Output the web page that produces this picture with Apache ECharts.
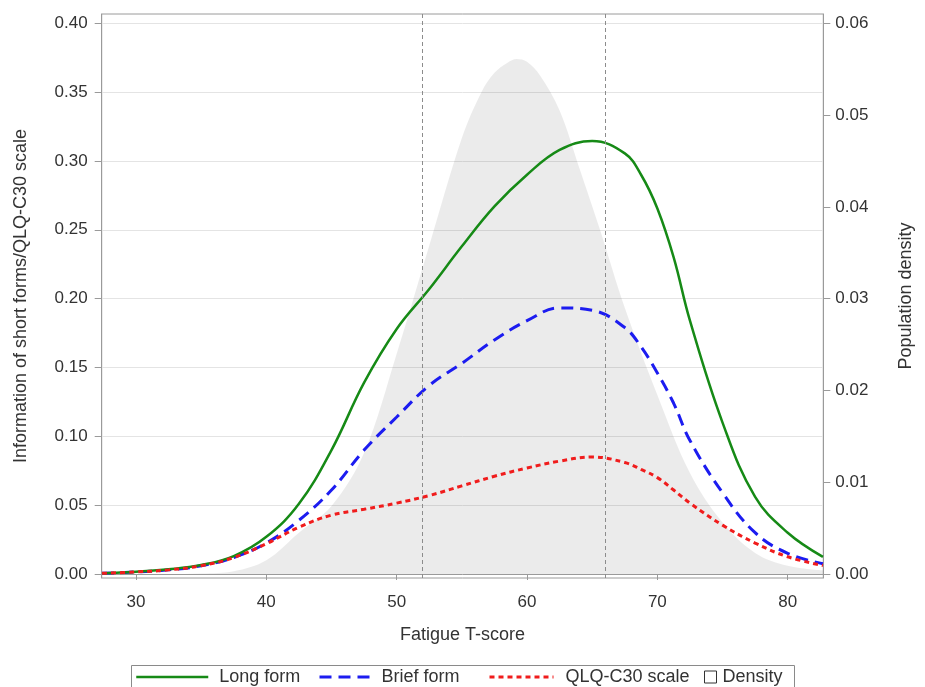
<!DOCTYPE html>
<html>
<head>
<meta charset="utf-8">
<script src="https://cdn.jsdelivr.net/npm/echarts@6/dist/echarts.min.js"></script>
<style>
html,body{margin:0;padding:0;background:#fff;}
#chart{width:925px;height:687px;}
</style>
</head>
<body>
<div id="chart"></div>
<script>
// ---- data ----
var curveX    = [27.4, 30, 32.5, 35, 37.5, 40, 42.5, 45, 47.5, 50, 52.5, 55, 57.5, 60, 62.5, 65, 67.5, 68.75, 70, 71.25, 72.5, 75, 77.5, 80, 82.7];
var longForm  = [0.0005, 0.0017, 0.0034, 0.0065, 0.013, 0.027, 0.051, 0.090, 0.139, 0.178, 0.207, 0.238, 0.267, 0.290, 0.308, 0.3145, 0.3055, 0.290, 0.2655, 0.230, 0.184, 0.110, 0.056, 0.030, 0.0125];
var briefForm = [0.0005, 0.0015, 0.003, 0.006, 0.012, 0.0225, 0.039, 0.061, 0.090, 0.114, 0.137, 0.153, 0.170, 0.184, 0.1933, 0.1916, 0.179, 0.165, 0.146, 0.124, 0.097, 0.059, 0.030, 0.015, 0.0075];
var qlqScale  = [0.0005, 0.0015, 0.003, 0.006, 0.012, 0.022, 0.034, 0.0428, 0.047, 0.0515, 0.057, 0.064, 0.071, 0.077, 0.082, 0.085, 0.081, 0.076, 0.070, 0.061, 0.0515, 0.0355, 0.0225, 0.0125, 0.0062];
var densityX  = [27.4, 30, 32.5, 35, 37.5, 40, 42.5, 45, 47.5, 50, 52.5, 55, 56.5, 57.5, 58.5, 59.2, 60, 61, 62.5, 64, 65.6, 67.5, 70, 72.5, 75, 77.5, 80, 82.7];
var densityY  = [0, 0, 0, 0.00005, 0.0003, 0.0015, 0.0045, 0.0074, 0.0132, 0.024, 0.0358, 0.0475, 0.0525, 0.0546, 0.0557, 0.0561, 0.0558, 0.0543, 0.0505, 0.0443, 0.0375, 0.0290, 0.0195, 0.0110, 0.0056, 0.0023, 0.0009, 0.0004];
var cutPoints = [52, 66];
var xTicks     = [30, 40, 50, 60, 70, 80];
var leftTicks  = [0, 0.05, 0.10, 0.15, 0.20, 0.25, 0.30, 0.35, 0.40];
var rightTicks = [0, 0.01, 0.02, 0.03, 0.04, 0.05, 0.06];

function pairs(xs, ys){ return xs.map(function(x,i){ return [x, ys[i]]; }); }

var FONT = '"Liberation Sans", Arial, sans-serif';
var AX = '#9a9a9a';
var TXT = '#333333';

var chart = echarts.init(document.getElementById('chart'), null, {renderer:'canvas'});

function legendFor(name, left, width, lw, gap){
  return {
    data: [name], left: left, top: 668, padding: 0, itemWidth: width, itemHeight: 14, selectedMode: false,
    itemStyle: {opacity: 0},
    lineStyle: {width: lw},
    textStyle: {fontFamily: FONT, fontSize: 18, color: TXT, padding: [0, 0, 0, gap]}
  };
}

var option = {
  backgroundColor: '#fff',
  animation: false,
  grid: {left: 101.7, right: 101.7, top: 14, bottom: 109, show: true, borderColor: AX, borderWidth: 1, containLabel: false},
  xAxis: {
    type: 'value', min: 27.37, max: 82.73,
    name: 'Fatigue T-score', nameLocation: 'middle', nameGap: 48,
    nameTextStyle: {fontFamily: FONT, fontSize: 18, color: TXT},
    axisLine: {lineStyle: {color: AX}},
    axisTick: {show: true, length: 6, lineStyle: {color: AX}, customValues: xTicks},
    axisLabel: {fontFamily: FONT, fontSize: 17, color: TXT, margin: 16, customValues: xTicks},
    splitLine: {show: false}
  },
  yAxis: [{
    type: 'value', min: -0.0029, max: 0.40675, position: 'left',
    name: 'Information of short forms/QLQ-C30 scale', nameLocation: 'middle', nameGap: 72,
    nameTextStyle: {fontFamily: FONT, fontSize: 18, color: TXT},
    axisLine: {show: true, lineStyle: {color: AX}},
    axisTick: {show: true, length: 7, lineStyle: {color: AX}, customValues: leftTicks},
    axisLabel: {fontFamily: FONT, fontSize: 17, color: TXT, margin: 14, customValues: leftTicks,
      formatter: function(v){ return v.toFixed(2); }},
    splitLine: {show: true, lineStyle: {color: '#e4e4e4', width: 1}}
  }, {
    type: 'value', min: -0.000435, max: 0.0610125, position: 'right',
    name: 'Population density', nameLocation: 'middle', nameGap: 74,
    nameTextStyle: {fontFamily: FONT, fontSize: 18, color: TXT},
    axisLine: {show: true, lineStyle: {color: AX}},
    axisTick: {show: true, length: 7, lineStyle: {color: AX}, customValues: rightTicks},
    axisLabel: {fontFamily: FONT, fontSize: 17, color: TXT, margin: 12, customValues: rightTicks,
      formatter: function(v){ return v.toFixed(2); }},
    splitLine: {show: false}
  }],
  legend: [
    legendFor('Long form', 135, 72, 2.5, 6),
    legendFor('Brief form', 318, 50, 3, 7),
    legendFor('QLQ-C30 scale', 488, 64, 3, 7),
    {
      data: [{name: 'Density', icon: 'rect', itemStyle: {color: '#fff', borderColor: '#333', borderWidth: 1, opacity: 1}}],
      left: 704, top: 668, padding: 0, itemWidth: 12, itemHeight: 12, selectedMode: false,
      textStyle: {fontFamily: FONT, fontSize: 18, color: TXT, padding: [0, 0, 0, 1]}
    }
  ],
  graphic: [{
    type: 'rect', silent: true, z: -1,
    shape: {x: 131.5, y: 665.5, width: 663, height: 30},
    style: {fill: 'none', stroke: '#8a8a8a', lineWidth: 1}
  }],
  series: [{
    name: 'Density', type: 'line', yAxisIndex: 1, smooth: 0.35, symbol: 'none', z: 1,
    data: pairs(densityX, densityY),
    lineStyle: {width: 0, color: 'rgba(0,0,0,0.08)'},
    itemStyle: {color: '#ebebeb'},
    areaStyle: {color: 'rgba(0,0,0,0.08)', opacity: 1},
    markLine: {
      silent: true, symbol: 'none', label: {show: false},
      lineStyle: {color: '#8c8c8c', type: [4, 3], width: 1},
      data: cutPoints.map(function(v){ return {xAxis: v}; })
    }
  }, {
    name: 'Long form', type: 'line', smooth: 0.4, symbol: 'none', z: 4,
    data: pairs(curveX, longForm),
    lineStyle: {color: '#168a16', width: 2.5},
    itemStyle: {color: '#168a16'}
  }, {
    name: 'Brief form', type: 'line', smooth: 0.4, symbol: 'none', z: 3,
    data: pairs(curveX, briefForm),
    lineStyle: {color: '#1c1cf0', width: 3, type: [12, 7]},
    itemStyle: {color: '#1c1cf0'}
  }, {
    name: 'QLQ-C30 scale', type: 'line', smooth: 0.4, symbol: 'none', z: 5,
    data: pairs(curveX, qlqScale),
    lineStyle: {color: '#f01c1c', width: 3, type: [5, 4]},
    itemStyle: {color: '#f01c1c'}
  }]
};
chart.setOption(option);
</script>
</body>
</html>
